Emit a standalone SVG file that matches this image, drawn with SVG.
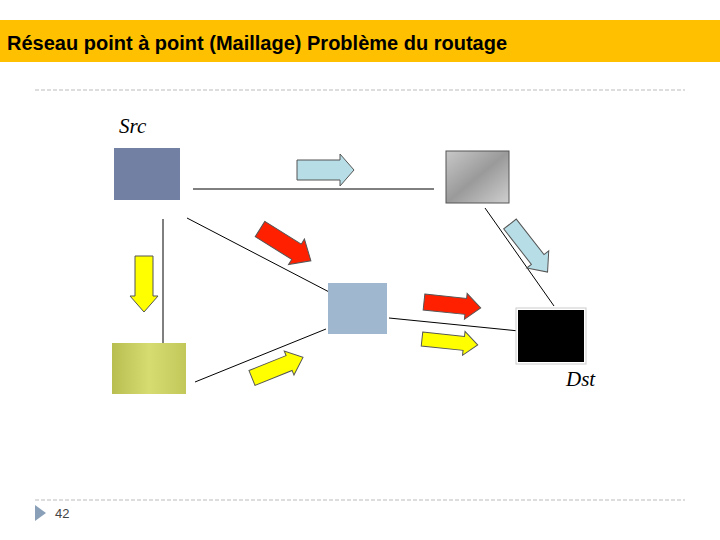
<svg xmlns="http://www.w3.org/2000/svg" width="720" height="540" viewBox="0 0 720 540">
<style>
.t{font-family:"Liberation Sans",Arial,sans-serif}
.lbl{font-family:"Liberation Serif","Times New Roman",serif;font-style:italic;font-size:21px}
.ln{stroke:#000;stroke-width:1;fill:none}
.arr{stroke:#555;stroke-width:1}
.dash{stroke:#bbb;stroke-width:1;stroke-dasharray:4 2}
</style>
<defs>
<linearGradient id="gg" x1="0" y1="0" x2="1" y2="1"><stop offset="0" stop-color="#c8c8c8"/><stop offset="0.5" stop-color="#9a9a9a"/><stop offset="1" stop-color="#cfcfcf"/></linearGradient>
<linearGradient id="yg" x1="0" y1="0" x2="1" y2="0"><stop offset="0" stop-color="#b8be50"/><stop offset="0.5" stop-color="#d6dc70"/><stop offset="1" stop-color="#c2c85a"/></linearGradient>
</defs>
<rect x="0" y="20" width="720" height="42" fill="#FFC000"/>
<text class="t" x="7" y="50" font-size="20" font-weight="bold">Réseau point à point (Maillage)  Problème du routage</text>
<line class="dash" x1="35" y1="90" x2="685" y2="90"/>
<line class="dash" x1="35" y1="500" x2="685" y2="500"/>
<polygon points="35,505 46,513 35,521" fill="#8aa0b8"/>
<text class="t" x="55" y="518" font-size="13" fill="#444">42</text>
<text class="lbl" x="119" y="133">Src</text>
<text class="lbl" x="566" y="386">Dst</text>
<g id="connectors">
<line class="ln" x1="193" y1="189" x2="434" y2="189"/>
<line class="ln" x1="163" y1="219" x2="163" y2="359"/>
<line class="ln" x1="187" y1="218" x2="333" y2="294"/>
<line class="ln" x1="485" y1="208" x2="554" y2="306"/>
<line class="ln" x1="389" y1="318" x2="519" y2="331"/>
<line class="ln" x1="195" y1="382" x2="326" y2="329"/>
</g>
<g id="arrows">
<polygon class="arr" fill="#b7dde6" transform="translate(297,170)" points="0,-10 43,-10 43,-16 57,0 43,16 43,10 0,10"/>
<polygon class="arr" fill="#ffff00" transform="translate(144,256) rotate(90)" points="0,-9 40,-9 40,-14 56,0 40,14 40,9 0,9"/>
<polygon class="arr" fill="#ff2000" transform="translate(260,229) rotate(32)" points="0,-9 43,-9 43,-15 60,0 43,15 43,9 0,9"/>
<polygon class="arr" fill="#b7dde6" transform="translate(510,224) rotate(52)" points="0,-8 45,-8 45,-14 61,0 45,14 45,8 0,8"/>
<polygon class="arr" fill="#ff2000" transform="translate(424,302) rotate(6)" points="0,-8 42,-8 42,-13 57,0 42,13 42,8 0,8"/>
<polygon class="arr" fill="#ffff00" transform="translate(422,339) rotate(6)" points="0,-7 42,-7 42,-12 56,0 42,12 42,7 0,7"/>
<polygon class="arr" fill="#ffff00" transform="translate(252,378) rotate(-22)" points="0,-8 40,-8 40,-13 55,0 40,13 40,8 0,8"/>
</g>
<g id="src"><rect x="114" y="148" width="66" height="52" fill="#7280a4"/></g>
<g id="gray"><rect x="446" y="151" width="63" height="52" fill="url(#gg)" stroke="#555" stroke-width="1"/></g>
<g id="mid"><rect x="328" y="283" width="59" height="51" fill="#a0b8cf"/></g>
<g id="dst"><rect x="516" y="308" width="70" height="56" fill="#fff" stroke="#ccc"/><rect x="518" y="310" width="66" height="52" fill="#000"/></g>
<g id="yg"><rect x="112" y="343" width="74" height="51" fill="url(#yg)"/></g>
</svg>
